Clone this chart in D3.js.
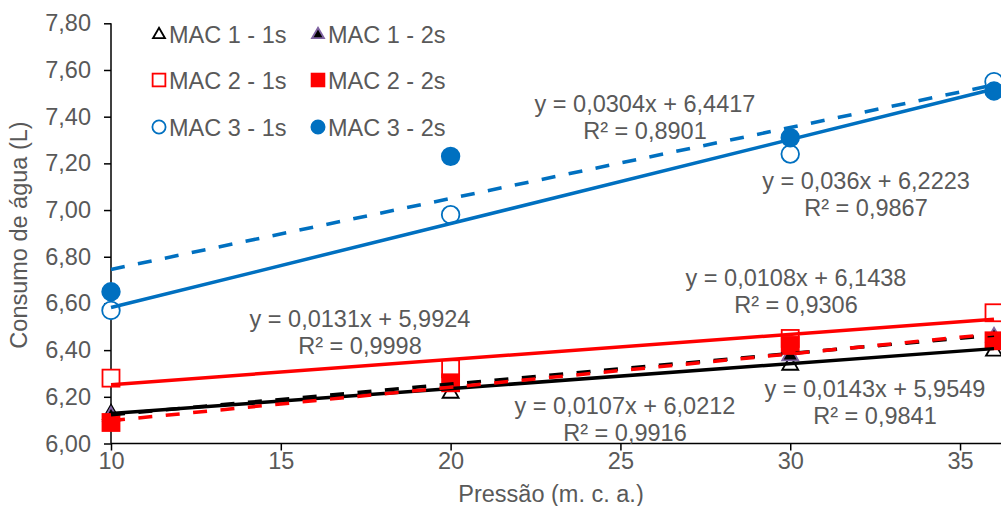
<!DOCTYPE html>
<html>
<head>
<meta charset="utf-8">
<script src="https://cdn.jsdelivr.net/npm/d3@7"></script>
<style>
  html, body { margin: 0; padding: 0; background: #fff; }
  text { font-family: "Liberation Sans", Arial, sans-serif; fill: #595959; }
</style>
</head>
<body>
<svg id="chart" width="1001" height="506"></svg>
<script>
// ---- data ----
const pressures = [10, 20, 30, 36];
const seriesNames = ["MAC 1 - 1s", "MAC 1 - 2s", "MAC 2 - 1s", "MAC 2 - 2s", "MAC 3 - 1s", "MAC 3 - 2s"];
const mac1_1s = [6.13, 6.22, 6.34, 6.40];
const mac1_2s = [6.12, 6.26, 6.38, 6.46];
const mac2_1s = [6.28, 6.32, 6.45, 6.56];
const mac2_2s = [6.09, 6.26, 6.42, 6.44];
const mac3_1s = [6.57, 6.98, 7.24, 7.55];
const mac3_2s = [6.65, 7.23, 7.31, 7.51];
const trendSlopes = [0.0107, 0.0131, 0.0108, 0.0143, 0.036, 0.0304];
const trendIntercepts = [6.0212, 5.9924, 6.1438, 5.9549, 6.2223, 6.4417];
const eqLabels = ["y = 0,0107x + 6,0212", "y = 0,0131x + 5,9924", "y = 0,0108x + 6,1438",
                  "y = 0,0143x + 5,9549", "y = 0,036x + 6,2223", "y = 0,0304x + 6,4417"];
const r2Labels = ["R² = 0,9916", "R² = 0,9998", "R² = 0,9306", "R² = 0,9841", "R² = 0,9867", "R² = 0,8901"];
const xTicks = [10, 15, 20, 25, 30, 35];
const yTicks = [6.0, 6.2, 6.4, 6.6, 6.8, 7.0, 7.2, 7.4, 7.6, 7.8];
const xTitle = "Pressão (m. c. a.)";
const yTitle = "Consumo de água (L)";

// ---- styles ----
const allValues = [mac1_1s, mac1_2s, mac2_1s, mac2_2s, mac3_1s, mac3_2s];
const styles = [
  {shape: "tri", fill: "#fff", stroke: "#000", line: "#000", dash: null},
  {shape: "tri", fill: "#000", stroke: "#8064A2", line: "#000", dash: "14,13.5"},
  {shape: "sq", fill: "#fff", stroke: "#FF0000", line: "#FF0000", dash: null},
  {shape: "sq", fill: "#FF0000", stroke: "#FF0000", line: "#FF0000", dash: "14,13.5"},
  {shape: "circ", fill: "#fff", stroke: "#0070C0", line: "#0070C0", dash: null},
  {shape: "circ", fill: "#0070C0", stroke: "#0070C0", line: "#0070C0", dash: "14,13.5"}
];
// label anchor positions (center x, baseline of first line)
const labelPos = [[625, 414], [360, 327], [796, 286], [875, 397], [866, 189], [645, 112]];

const svg = d3.select("#chart");
const x = d3.scaleLinear().domain([10, 36]).range([111, 994]);
const y = d3.scaleLinear().domain([6.0, 7.8]).range([443.5, 23.3]);
const FS = 23.5;

// axes
const xAxis = d3.axisBottom(x).tickValues(xTicks).tickSize(7).tickFormat(d3.format("d"));
const gx = svg.append("g").attr("transform", `translate(0,${y(6.0)})`).call(xAxis);
gx.select(".domain").attr("d", `M${x(10)},0H1001`).attr("stroke", "#000").attr("stroke-width", 1.5);
gx.selectAll(".tick line").attr("stroke", "#000").attr("stroke-width", 1.5);
gx.selectAll(".tick text").attr("font-size", FS).attr("dy", "0.6em").attr("y", 11)
  .style("font-family", "Liberation Sans, Arial, sans-serif").attr("fill", "#595959");

const fmt = d => d3.format(".2f")(d).replace(".", ",");
const yAxis = d3.axisLeft(y).tickValues(yTicks).tickSize(7).tickFormat(fmt);
const gy = svg.append("g").attr("transform", `translate(${x(10)},0)`).call(yAxis);
gy.select(".domain").attr("d", `M0,${y(6.0)}V${y(7.8)}`).attr("stroke", "#000").attr("stroke-width", 1.5);
gy.selectAll(".tick line").attr("stroke", "#000").attr("stroke-width", 1.5);
gy.selectAll(".tick text").attr("font-size", FS).attr("x", -20)
  .style("font-family", "Liberation Sans, Arial, sans-serif").attr("fill", "#595959");
gx.attr("font-family", null); gy.attr("font-family", null);

// titles
svg.append("text").attr("x", 551).attr("y", 502).attr("text-anchor", "middle")
  .attr("font-size", FS).text(xTitle);
svg.append("text").attr("transform", `translate(27,235) rotate(-90)`).attr("text-anchor", "middle")
  .attr("font-size", FS).text(yTitle);

// marker drawing
function marker(g, st, cx, cy, scale) {
  const s = scale || 1;
  if (st.shape === "tri") {
    const h = 14 * s, w = 16 * s;
    g.append("path")
      .attr("d", `M${cx},${cy - h * 0.6}L${cx + w / 2},${cy + h * 0.4}L${cx - w / 2},${cy + h * 0.4}Z`)
      .attr("fill", st.fill).attr("stroke", st.stroke).attr("stroke-width", 1.8);
  } else if (st.shape === "sq") {
    const a = 17 * s;
    g.append("rect").attr("x", cx - a / 2).attr("y", cy - a / 2).attr("width", a).attr("height", a)
      .attr("fill", st.fill).attr("stroke", st.stroke).attr("stroke-width", 1.8);
  } else {
    g.append("circle").attr("cx", cx).attr("cy", cy).attr("r", 8.8 * s)
      .attr("fill", st.fill).attr("stroke", st.stroke).attr("stroke-width", 1.8);
  }
}

// markers
const gm = svg.append("g");
allValues.forEach((vals, i) => {
  vals.forEach((v, j) => marker(gm, styles[i], x(pressures[j]), y(v)));
});

// trendlines
const gl = svg.append("g");
allValues.forEach((vals, i) => {
  const x0 = 10, x1 = 36;
  gl.append("line")
    .attr("x1", x(x0)).attr("y1", y(trendSlopes[i] * x0 + trendIntercepts[i]))
    .attr("x2", x(x1)).attr("y2", y(trendSlopes[i] * x1 + trendIntercepts[i]))
    .attr("stroke", styles[i].line).attr("stroke-width", 3.5)
    .attr("stroke-dasharray", styles[i].dash);
});

// equation labels
const ge = svg.append("g");
labelPos.forEach((p, i) => {
  ge.append("text").attr("x", p[0]).attr("y", p[1]).attr("text-anchor", "middle")
    .attr("font-size", FS).text(eqLabels[i]);
  ge.append("text").attr("x", p[0]).attr("y", p[1] + 27).attr("text-anchor", "middle")
    .attr("font-size", FS).text(r2Labels[i]);
});

// legend
const legPos = [[159, 34], [318, 34], [159, 80], [318, 80], [159, 127], [318, 127]];
const gleg = svg.append("g");
seriesNames.forEach((n, i) => {
  const [lx, ly] = legPos[i];
  marker(gleg, styles[i], lx, ly, 0.75);
  gleg.append("text").attr("x", lx + 10).attr("y", ly + 8.5).attr("font-size", FS).text(n);
});
</script>
</body>
</html>
